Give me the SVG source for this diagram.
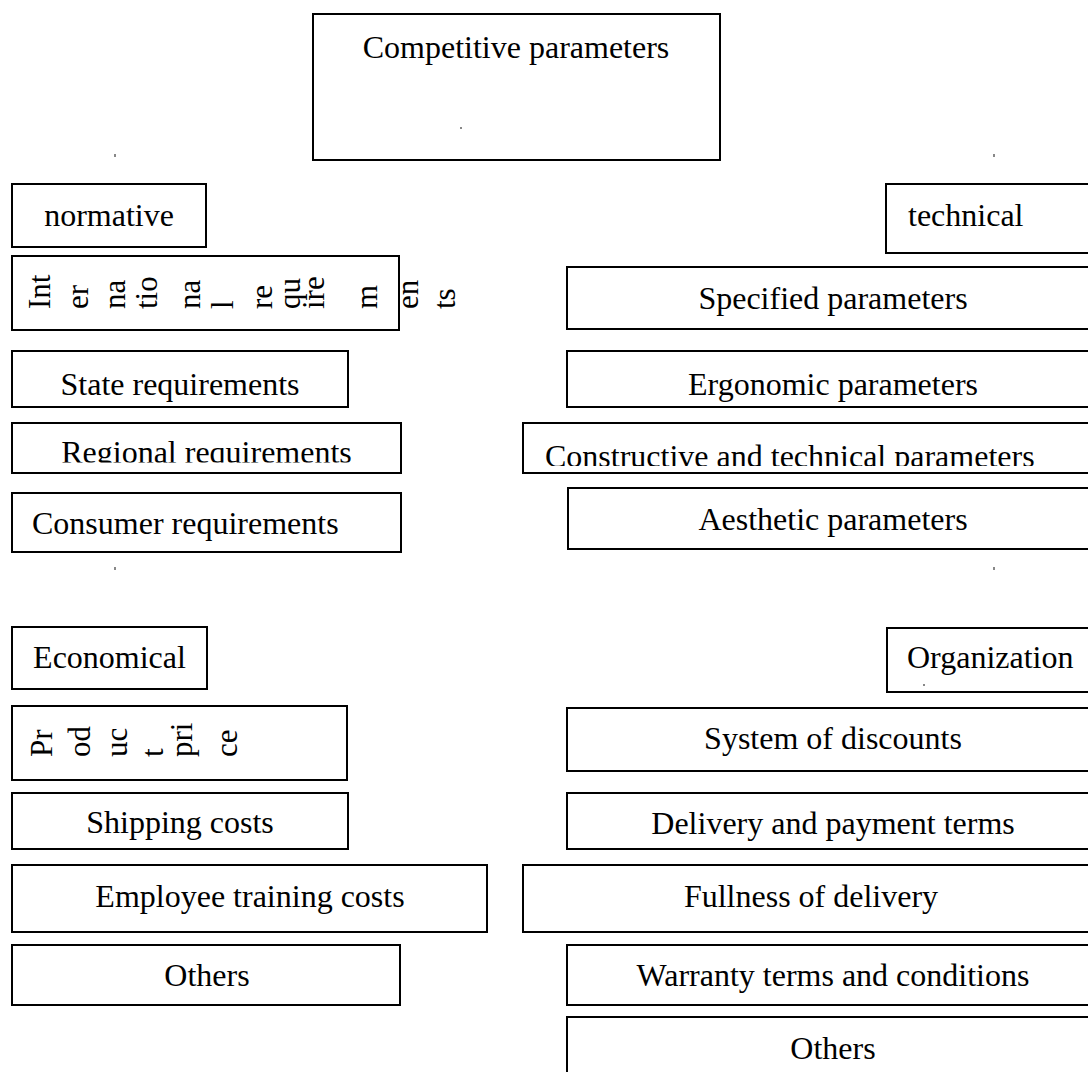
<svg xmlns="http://www.w3.org/2000/svg" width="1088" height="1072" viewBox="0 0 1088 1072">
<style>
.b{fill:#fff;stroke:#000;stroke-width:2}
.t{font-family:"Liberation Serif","Times New Roman",serif;font-size:32px;fill:#000}
.m{text-anchor:middle}
.r{font-family:"Liberation Serif","Times New Roman",serif;font-size:31px;fill:#000}
.d{fill:#888}
</style>
<defs>
<clipPath id="clipRegional"><rect x="12" y="423" width="389" height="39.5"/></clipPath>
<clipPath id="clipConstr"><rect x="523" y="423" width="570" height="43"/></clipPath>
</defs>
<rect width="1088" height="1072" fill="#fff"/>
<g id="connectors"></g>

<g id="competitive">
<rect class="b" x="313" y="14" width="407" height="146"/>
<text class="t m" x="516" y="58">Competitive parameters</text>
<rect class="d" x="460" y="127" width="2" height="2"/>
</g>

<g id="marks">
<rect class="d" x="114" y="154" width="2" height="3"/>
<rect class="d" x="993" y="154" width="2" height="3"/>
<rect class="d" x="114" y="567" width="2" height="3"/>
<rect class="d" x="993" y="567" width="2" height="3"/>
</g>

<g id="normative">
<rect class="b" x="12" y="184" width="194" height="63"/>
<text class="t m" x="109" y="226">normative</text>
</g>

<g id="technical">
<rect class="b" x="886" y="184" width="214" height="69"/>
<text class="t" x="908" y="226">technical</text>
</g>

<g id="international">
<rect class="b" x="12" y="256" width="387" height="74"/>
<text class="r" transform="translate(50,309) rotate(-90)">Int</text>
<text class="r" transform="translate(88,309) rotate(-90)">er</text>
<text class="r" transform="translate(125,309) rotate(-90)">na</text>
<text class="r" transform="translate(157,309) rotate(-90)">tio</text>
<text class="r" transform="translate(200,309) rotate(-90)">na</text>
<text class="r" transform="translate(233,309) rotate(-90)">l</text>
<text class="r" transform="translate(272,309) rotate(-90)">re</text>
<text class="r" transform="translate(300,309) rotate(-90)">qu</text>
<text class="r" transform="translate(324,309) rotate(-90)">ire</text>
<text class="r" transform="translate(377,309) rotate(-90)">m</text>
<text class="r" transform="translate(418,309) rotate(-90)">en</text>
<text class="r" transform="translate(455,309) rotate(-90)">ts</text>
</g>

<g id="specified">
<rect class="b" x="567" y="267" width="533" height="62"/>
<text class="t m" x="833" y="309">Specified parameters</text>
</g>

<g id="state">
<rect class="b" x="12" y="351" width="336" height="56"/>
<text class="t m" x="180" y="395">State requirements</text>
</g>

<g id="ergonomic">
<rect class="b" x="567" y="351" width="533" height="56"/>
<text class="t m" x="833" y="395">Ergonomic parameters</text>
</g>

<g id="regional">
<rect class="b" x="12" y="423" width="389" height="50"/>
<g clip-path="url(#clipRegional)">
<text class="t m" x="206.5" y="463">Regional requirements</text>
</g>
</g>

<g id="constructive">
<rect class="b" x="523" y="423" width="577" height="50"/>
<g clip-path="url(#clipConstr)">
<text class="t" x="545" y="467">Constructive and technical parameters</text>
</g>
</g>

<g id="consumer">
<rect class="b" x="12" y="493" width="389" height="59"/>
<text class="t" x="32" y="534">Consumer requirements</text>
</g>

<g id="aesthetic">
<rect class="b" x="568" y="488" width="532" height="61"/>
<text class="t m" x="833" y="530">Aesthetic parameters</text>
</g>

<g id="economical">
<rect class="b" x="12" y="627" width="195" height="62"/>
<text class="t m" x="109.5" y="668">Economical</text>
</g>

<g id="organization">
<rect class="b" x="887" y="628" width="213" height="64"/>
<text class="t" x="907" y="668">Organization</text>
<rect class="d" x="923" y="684" width="2" height="2"/>
</g>

<g id="product">
<rect class="b" x="12" y="706" width="335" height="74"/>
<text class="r" transform="translate(52,757) rotate(-90)">Pr</text>
<text class="r" transform="translate(90,757) rotate(-90)">od</text>
<text class="r" transform="translate(127,757) rotate(-90)">uc</text>
<text class="r" transform="translate(163,757) rotate(-90)">t</text>
<text class="r" transform="translate(192,757) rotate(-90)">pri</text>
<text class="r" transform="translate(237,757) rotate(-90)">ce</text>
</g>

<g id="discounts">
<rect class="b" x="567" y="708" width="533" height="63"/>
<text class="t m" x="833" y="749">System of discounts</text>
</g>

<g id="shipping">
<rect class="b" x="12" y="793" width="336" height="56"/>
<text class="t m" x="180" y="833">Shipping costs</text>
</g>

<g id="delivery">
<rect class="b" x="567" y="793" width="533" height="56"/>
<text class="t m" x="833" y="834">Delivery and payment terms</text>
</g>

<g id="training">
<rect class="b" x="12" y="865" width="475" height="67"/>
<text class="t m" x="250" y="907">Employee training costs</text>
</g>

<g id="fullness">
<rect class="b" x="523" y="865" width="577" height="67"/>
<text class="t m" x="811" y="907">Fullness of delivery</text>
</g>

<g id="others-economical">
<rect class="b" x="12" y="945" width="388" height="60"/>
<text class="t m" x="207" y="986">Others</text>
</g>

<g id="warranty">
<rect class="b" x="567" y="945" width="533" height="60"/>
<text class="t m" x="833" y="986">Warranty terms and conditions</text>
</g>

<g id="others-organization">
<rect class="b" x="567" y="1017" width="533" height="70"/>
<text class="t m" x="833" y="1059">Others</text>
</g>
</svg>
